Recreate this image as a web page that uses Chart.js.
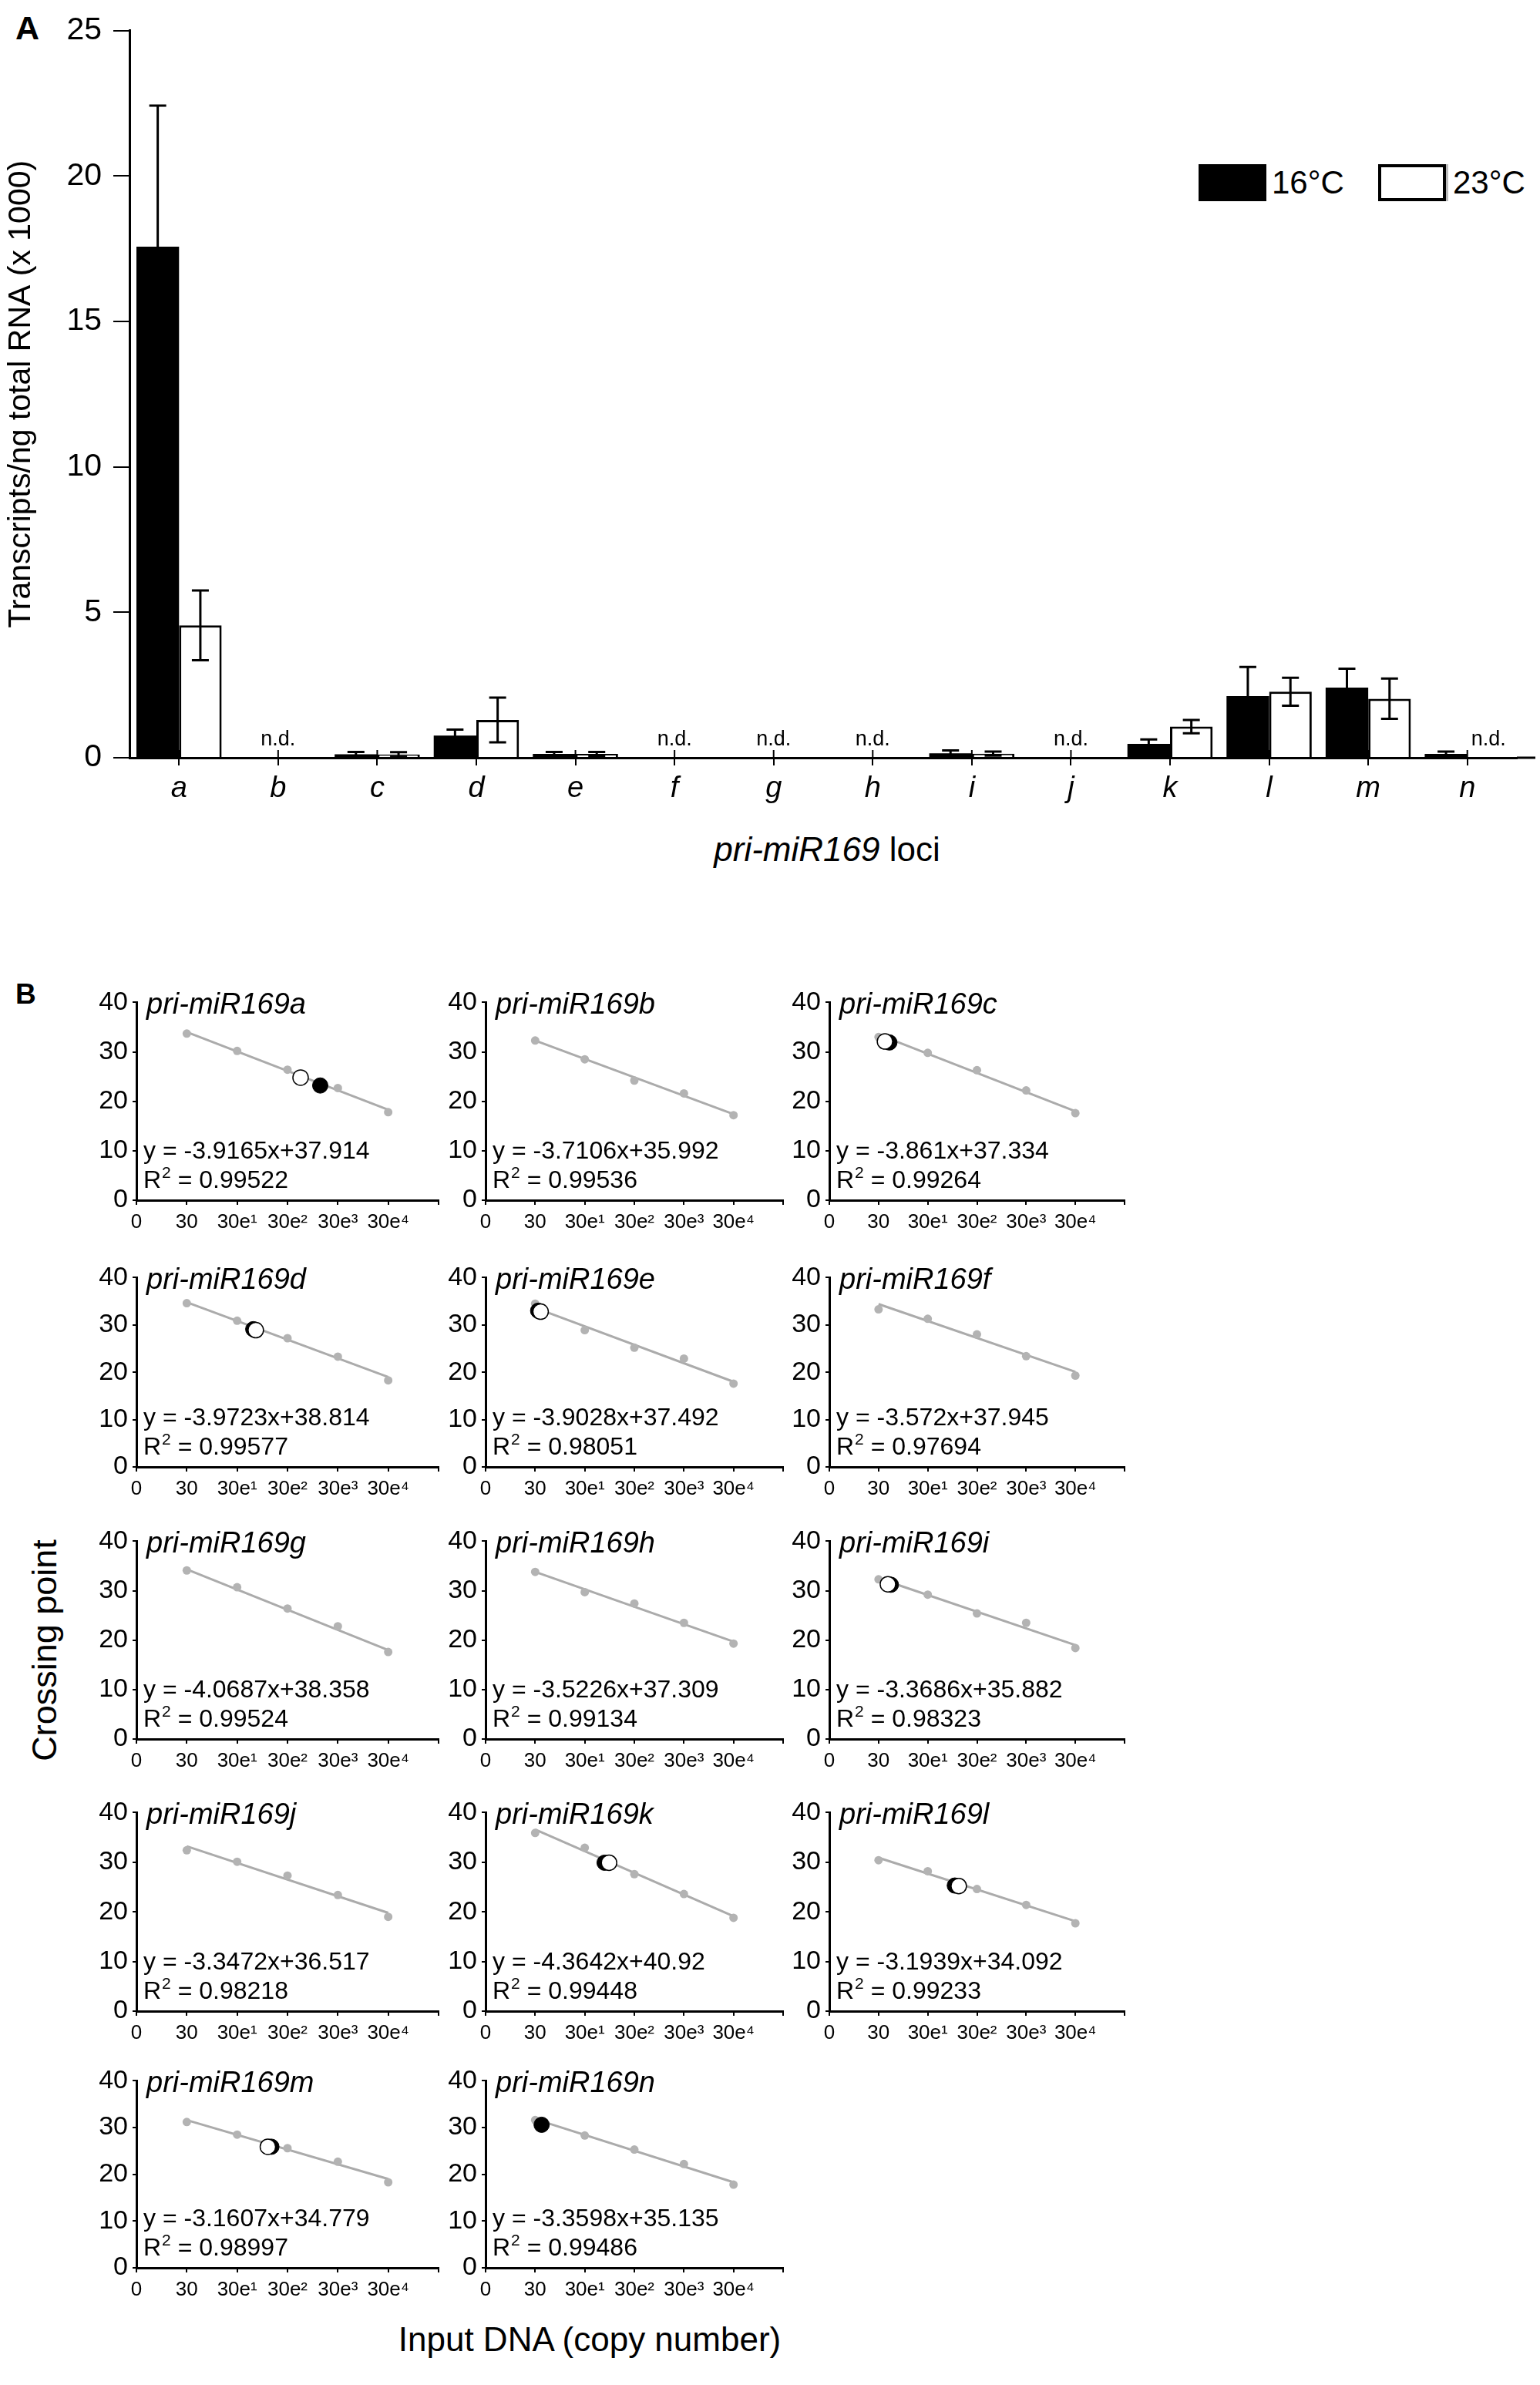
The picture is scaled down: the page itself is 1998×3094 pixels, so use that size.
<!DOCTYPE html>
<html>
<head>
<meta charset="utf-8">
<script src="https://cdn.jsdelivr.net/npm/chart.js@4.4.0/dist/chart.umd.min.js"></script>
<style>
  body { margin: 0; background: #fff; width: 1998px; height: 3094px; position: relative; overflow: hidden;
         font-family: "Liberation Sans", Arial, sans-serif; color: #000; }
  canvas, .txt { position: absolute; }
  .txt { line-height: 1; white-space: nowrap; }
  .box { position: absolute; box-sizing: border-box; }
</style>
</head>
<body>
<div class="txt" style="left:20px;top:15px;font-size:43px;font-weight:bold;">A</div>
<div class="txt" style="left:20px;top:1271px;font-size:37px;font-weight:bold;">B</div>

<!-- legend of panel A -->
<div class="box" style="left:1555px;top:213px;width:88px;height:48px;background:#000;"></div>
<div class="txt" style="left:1650px;top:216px;font-size:42px;">16°C</div>
<div class="box" style="left:1788px;top:213px;width:88px;height:48px;border:4px solid #000;background:#fff;box-shadow:3px 0 0 #bbb;"></div>
<div class="txt" style="left:1885px;top:216px;font-size:42px;">23°C</div>

<div class="txt" style="left:1073px;top:1080px;font-size:44px;transform:translateX(-50%);"><i>pri-miR169</i> loci</div>
<div class="txt" style="left:57px;top:2141px;font-size:45px;transform:translate(-50%,-50%) rotate(-90deg);">Crossing point</div>
<div class="txt" style="left:765px;top:3013px;font-size:44px;transform:translateX(-50%);">Input DNA (copy number)</div>

<canvas id="barChart" width="1998" height="1060" style="left:0;top:0;"></canvas>

<script>
// ---- panel A: transcripts per ng total RNA (x 1000)
const loci = ['a','b','c','d','e','f','g','h','i','j','k','l','m','n'];
const cold16 = [17.57, null, 0.12, 0.76, 0.13, null, null, null, 0.15, null, 0.48, 2.12, 2.41, 0.13];
const warm23 = [4.55, null, 0.11, 1.30, 0.13, null, null, null, 0.14, null, 1.07, 2.27, 2.03, null];
const cold16Err = [4.85, null, 0.08, 0.21, 0.07, null, null, null, 0.10, null, 0.15, 1.00, 0.65, 0.08];
const warm23Err = [1.20, null, 0.08, 0.77, 0.07, null, null, null, 0.07, null, 0.23, 0.48, 0.69, null];
const yTicksA = [0, 5, 10, 15, 20, 25];

// ---- panel B: standard curves
const panelNames = ['pri-miR169a','pri-miR169b','pri-miR169c','pri-miR169d','pri-miR169e','pri-miR169f','pri-miR169g',
                    'pri-miR169h','pri-miR169i','pri-miR169j','pri-miR169k','pri-miR169l','pri-miR169m','pri-miR169n'];
const inputTicks = ['0', '30', '30e¹', '30e²', '30e³', '30e⁴'];
const crossTicks = [0, 10, 20, 30, 40];
const standards = [
  [33.7, 30.2, 26.4, 22.7, 17.8],
  [32.3, 28.5, 24.2, 21.6, 17.2],
  [33.0, 29.8, 26.3, 22.2, 17.6],
  [34.6, 30.9, 27.2, 23.3, 18.3],
  [34.5, 28.9, 25.2, 22.9, 17.6],
  [33.3, 31.3, 28.0, 23.4, 19.3],
  [34.1, 30.7, 26.4, 22.8, 17.6],
  [33.8, 29.7, 27.4, 23.5, 19.3],
  [32.3, 29.2, 25.4, 23.5, 18.4],
  [32.4, 30.1, 27.3, 23.4, 19.0],
  [35.9, 32.9, 27.6, 23.6, 18.8],
  [30.4, 28.2, 24.6, 21.4, 17.7],
  [31.2, 28.5, 25.6, 22.7, 18.3],
  [31.6, 28.3, 25.3, 22.2, 17.8]
];
const fitStart = [34.0, 32.3, 33.5, 34.8, 33.6, 34.4, 34.3, 33.8, 32.5, 33.2, 36.6, 30.9, 31.6, 31.8];
const fitEnd   = [18.3, 17.4, 18.0, 19.0, 18.0, 20.1, 18.0, 19.7, 19.0, 19.8, 19.1, 18.1, 19.0, 18.3];
const fitEquations = ['y = -3.9165x+37.914','y = -3.7106x+35.992','y = -3.861x+37.334','y = -3.9723x+38.814',
                      'y = -3.9028x+37.492','y = -3.572x+37.945','y = -4.0687x+38.358','y = -3.5226x+37.309',
                      'y = -3.3686x+35.882','y = -3.3472x+36.517','y = -4.3642x+40.92','y = -3.1939x+34.092',
                      'y = -3.1607x+34.779','y = -3.3598x+35.135'];
const rSquared = ['0.99522','0.99536','0.99264','0.99577','0.98051','0.97694','0.99524',
                  '0.99134','0.98323','0.98218','0.99448','0.99233','0.98997','0.99486'];
// samples (x on the copy-number axis, y = crossing point); null = not detected
const sample16x = [3.65, null, 1.22, 2.32, 1.06, null, null, null, 1.25, null, 2.40, 2.55, 2.68, 1.13];
const sample16y = [23.2, null, 31.9, 29.1, 33.0, null, null, null, 31.2, null, 29.9, 25.3, 25.9, 30.6];
const sample23x = [3.26, null, 1.13, 2.37, 1.11, null, null, null, 1.19, null, 2.49, 2.63, 2.61, null];
const sample23y = [24.8, null, 32.1, 28.9, 32.8, null, null, null, 31.3, null, 29.9, 25.2, 25.9, null];

const FONT = '"Liberation Sans", Arial, sans-serif';
Chart.defaults.font.family = FONT;
Chart.defaults.color = '#000';
Chart.defaults.animation = false;

// error bars + n.d. marks for panel A
const errorBars = {
  id: 'errorBars',
  afterDatasetsDraw(chart) {
    const { ctx, scales: { x, y } } = chart;
    const errs = [cold16Err, warm23Err];
    ctx.save();
    ctx.strokeStyle = '#000';
    ctx.lineWidth = 3;
    [0, 1].forEach(di => {
      const meta = chart.getDatasetMeta(di);
      const vals = chart.data.datasets[di].data;
      meta.data.forEach((bar, i) => {
        if (vals[i] == null || errs[di][i] == null) return;
        const top = y.getPixelForValue(vals[i] + errs[di][i]);
        const bot = y.getPixelForValue(Math.max(0, vals[i] - errs[di][i]));
        ctx.beginPath();
        ctx.moveTo(bar.x, top); ctx.lineTo(bar.x, bot);
        ctx.moveTo(bar.x - 11, top); ctx.lineTo(bar.x + 11, top);
        ctx.moveTo(bar.x - 11, bot); ctx.lineTo(bar.x + 11, bot);
        ctx.stroke();
      });
    });
    const y0 = y.getPixelForValue(0);
    // tick marks cross the axis: inner half
    ctx.lineWidth = 2;
    loci.forEach((l, i) => {
      const c = x.getPixelForValue(i);
      ctx.beginPath(); ctx.moveTo(c, y0); ctx.lineTo(c, y0 - 10); ctx.stroke();
    });
    // n.d. labels
    ctx.fillStyle = '#000';
    ctx.font = '27px ' + FONT;
    ctx.textAlign = 'center';
    ctx.textBaseline = 'alphabetic';
    loci.forEach((l, i) => {
      const c = x.getPixelForValue(i);
      if (cold16[i] == null && warm23[i] == null) {
        ctx.fillText('n.d.', c, y0 - 16);
      } else if (warm23[i] == null) {
        const b = chart.getDatasetMeta(0).data[i];
        ctx.fillText('n.d.', b.x + b.width, y0 - 16);
      } else if (cold16[i] == null) {
        const b = chart.getDatasetMeta(1).data[i];
        ctx.fillText('n.d.', b.x - b.width, y0 - 16);
      }
    });
    // the x axis runs a little past the last group
    ctx.lineWidth = 3;
    ctx.beginPath();
    ctx.moveTo(chart.chartArea.right, y0);
    ctx.lineTo(chart.chartArea.right + 24, y0);
    ctx.stroke();
    ctx.restore();
  }
};

new Chart(document.getElementById('barChart'), {
  type: 'bar',
  data: {
    labels: loci,
    datasets: [
      { label: '16°C', data: cold16, backgroundColor: '#000', borderColor: '#000', borderWidth: 0,
        categoryPercentage: 0.86, barPercentage: 1.0 },
      { label: '23°C', data: warm23, backgroundColor: '#fff', borderColor: '#000', borderWidth: 3,
        categoryPercentage: 0.86, barPercentage: 1.0 }
    ]
  },
  options: {
    responsive: false,
    devicePixelRatio: 1,
    layout: { padding: { top: 23, left: 0, right: 30, bottom: 0 } },
    plugins: { legend: { display: false }, tooltip: { enabled: false } },
    scales: {
      x: {
        grid: { display: true, offset: false, drawOnChartArea: false, tickLength: 10, color: '#000', lineWidth: 2 },
        border: { color: '#000', width: 3 },
        ticks: { font: { size: 38, style: 'italic' }, padding: 8, maxRotation: 0 },
        afterFit: s => { s.height = 77; }
      },
      y: {
        min: 0, max: 25,
        afterBuildTicks: s => { s.ticks = yTicksA.map(v => ({ value: v })); },
        grid: { drawOnChartArea: false, tickLength: 21, color: '#000', lineWidth: 2 },
        border: { color: '#000', width: 3 },
        ticks: { font: { size: 41 }, padding: 15 },
        title: { display: true, text: 'Transcripts/ng total RNA (x 1000)', font: { size: 41 }, padding: { top: 3, bottom: 0 } },
        afterFit: s => { s.width = 168; }
      }
    }
  },
  plugins: [errorBars]
});

// ---- panel B layout
const colAxisX = [177, 630, 1076];
const colUnit = [65.3, 64.3, 63.8];
const rowZeroY = [1557, 1903, 2256, 2609, 2942];
const rowPlotH = [261, 250, 261, 262, 247];
const Y_W = 72, X_H = 52, PAD_T = 22, PAD_R = 12;

const panelText = {
  id: 'panelText',
  afterDraw(chart, args, opts) {
    const { ctx, chartArea: a } = chart;
    const i = opts.index;
    ctx.save();
    ctx.fillStyle = '#000';
    ctx.textAlign = 'left';
    ctx.textBaseline = 'alphabetic';
    ctx.font = 'italic 38px ' + FONT;
    ctx.fillText(panelNames[i], a.left + 13, a.top + 15);
    ctx.font = '32px ' + FONT;
    ctx.fillText(fitEquations[i], a.left + 9, a.bottom - 54);
    let x = a.left + 9;
    ctx.fillText('R', x, a.bottom - 16);
    x += ctx.measureText('R').width;
    ctx.font = '21px ' + FONT;
    ctx.fillText('2', x + 1, a.bottom - 29);
    x += ctx.measureText('2').width + 1;
    ctx.font = '32px ' + FONT;
    ctx.fillText(' = ' + rSquared[i], x, a.bottom - 16);
    ctx.restore();
  }
};

panelNames.forEach((name, i) => {
  const col = i % 3, row = Math.floor(i / 3);
  const plotW = colUnit[col] * 6, plotH = rowPlotH[row];
  const cv = document.createElement('canvas');
  cv.width = Math.round(Y_W + plotW + PAD_R);
  cv.height = Math.round(PAD_T + plotH + X_H);
  cv.style.left = (colAxisX[col] - Y_W) + 'px';
  cv.style.top = (rowZeroY[row] - plotH - PAD_T) + 'px';
  document.body.appendChild(cv);

  const datasets = [];
  if (sample23x[i] != null) {
    datasets.push({ type: 'scatter', data: [{ x: sample23x[i], y: sample23y[i] }],
      pointRadius: 10, backgroundColor: '#fff', borderColor: '#000', borderWidth: 1.5 });
  }
  if (sample16x[i] != null) {
    datasets.push({ type: 'scatter', data: [{ x: sample16x[i], y: sample16y[i] }],
      pointRadius: 10, backgroundColor: '#000', borderColor: '#000', borderWidth: 1 });
  }
  datasets.push({ type: 'scatter', data: standards[i].map((v, k) => ({ x: k + 1, y: v })),
    pointRadius: 5.5, backgroundColor: '#b3b3b3', borderWidth: 0 });
  datasets.push({ type: 'line', data: [{ x: 1, y: fitStart[i] }, { x: 5, y: fitEnd[i] }],
    borderColor: '#ababab', borderWidth: 3, pointRadius: 0, fill: false });

  new Chart(cv, {
    type: 'scatter',
    data: { datasets },
    options: {
      responsive: false,
      devicePixelRatio: 1,
      layout: { padding: { top: PAD_T, left: 0, right: PAD_R, bottom: 0 } },
      plugins: { legend: { display: false }, tooltip: { enabled: false }, panelText: { index: i } },
      scales: {
        x: {
          type: 'linear', min: 0, max: 6,
          afterBuildTicks: s => { s.ticks = [0, 1, 2, 3, 4, 5, 6].map(v => ({ value: v })); },
          grid: { drawOnChartArea: false, tickLength: 6, color: '#000', lineWidth: 2 },
          border: { color: '#000', width: 3 },
          ticks: { font: { size: 26 }, padding: 7, maxRotation: 0, autoSkip: false,
                   callback: v => inputTicks[v] ?? '' },
          afterFit: s => { s.height = X_H; }
        },
        y: {
          min: 0, max: 40,
          afterBuildTicks: s => { s.ticks = crossTicks.map(v => ({ value: v })); },
          grid: { drawOnChartArea: false, tickLength: 5, color: '#000', lineWidth: 2 },
          border: { color: '#000', width: 3 },
          ticks: { font: { size: 34 }, padding: 6 },
          afterFit: s => { s.width = Y_W; }
        }
      }
    },
    plugins: [panelText]
  });
});
</script>
</body>
</html>
